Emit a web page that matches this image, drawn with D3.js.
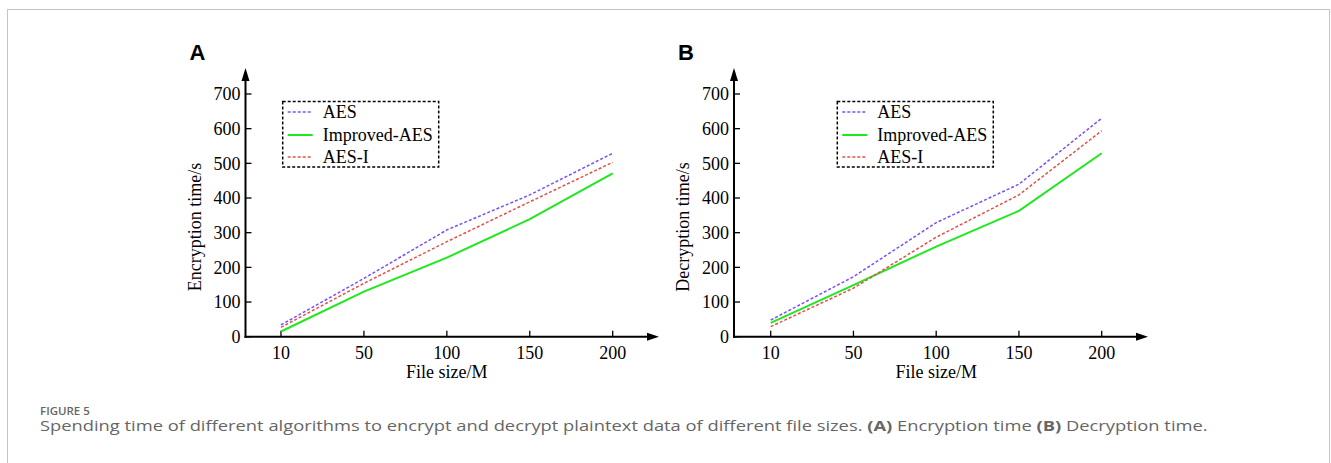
<!DOCTYPE html>
<html>
<head>
    <meta charset="UTF-8">
    <title>Encryption / decryption time</title>
    <script src="https://d3js.org/d3.v7.min.js"></script>
    <style>
        body { margin: 0; background: #fff; }
        .tick-label, .axis-title, .legend-text { font-family: "Liberation Serif", "Times New Roman", serif; font-size: 18px; fill: #000; }
        .panel-letter { font-family: "Liberation Sans", Arial, sans-serif; font-weight: bold; font-size: 22px; }
        .caption { font-family: "Open Sans", sans-serif; fill: #666; }
    </style>
</head>
<body>
    <svg id="chart"></svg>
    <script>
        const width = 1331;
        const height = 463;

        // data
        const fileSizes = ["10", "50", "100", "150", "200"];
        const yTicks = [0, 100, 200, 300, 400, 500, 600, 700];
        const seriesNames = ["AES", "Improved-AES", "AES-I"];

        const encAES = [34, 168, 308, 409, 529];
        const encImproved = [15, 130, 228, 339, 471];
        const encAESI = [27, 154, 274, 389, 503];

        const decAES = [48, 173, 329, 440, 630];
        const decImproved = [40, 149, 260, 363, 529];
        const decAESI = [29, 140, 287, 409, 594];

        const styles = {
            "AES": { color: "#7a4dff", dash: "3,2", width: 1.5 },
            "Improved-AES": { color: "#1ee81e", dash: null, width: 2 },
            "AES-I": { color: "#e2504c", dash: "3,2", width: 1.5 }
        };

        const svg = d3.select("#chart")
            .attr("width", width)
            .attr("height", height);

        // outer frame
        svg.append("rect")
            .attr("x", 7.5).attr("y", 9.5)
            .attr("width", 1322).attr("height", 470)
            .attr("fill", "none")
            .attr("stroke", "#c4c4c4");

        function drawPanel(opt) {
            const g = svg.append("g");
            const x = d3.scalePoint().domain(fileSizes).range([opt.x0, opt.x1]);
            const y = d3.scaleLinear().domain([0, 700]).range([336.7, 94]);

            // axes lines with arrows
            g.append("line")
                .attr("x1", opt.axisX).attr("x2", opt.axisX)
                .attr("y1", y(0) + 1).attr("y2", 78)
                .attr("stroke", "#000").attr("stroke-width", 2);
            g.append("path")
                .attr("d", `M${opt.axisX},68 L${opt.axisX - 4},81 L${opt.axisX + 4},81 Z`)
                .attr("fill", "#000");
            g.append("line")
                .attr("x1", opt.axisX - 1).attr("x2", opt.arrowX - 10)
                .attr("y1", y(0)).attr("y2", y(0))
                .attr("stroke", "#000").attr("stroke-width", 2);
            g.append("path")
                .attr("d", `M${opt.arrowX},${y(0)} L${opt.arrowX - 12},${y(0) - 4} L${opt.arrowX - 12},${y(0) + 4} Z`)
                .attr("fill", "#000");

            // y ticks (inward)
            yTicks.forEach(t => {
                g.append("line")
                    .attr("x1", opt.axisX).attr("x2", opt.axisX + 6)
                    .attr("y1", y(t)).attr("y2", y(t))
                    .attr("stroke", "#000").attr("stroke-width", 1.3);
                g.append("text")
                    .attr("class", "tick-label")
                    .attr("x", opt.axisX - 5).attr("y", y(t))
                    .attr("dy", "0.35em")
                    .attr("text-anchor", "end")
                    .text(t);
            });

            // x ticks (inward)
            fileSizes.forEach(c => {
                g.append("line")
                    .attr("x1", x(c)).attr("x2", x(c))
                    .attr("y1", y(0)).attr("y2", y(0) - 6)
                    .attr("stroke", "#000").attr("stroke-width", 1.3);
                g.append("text")
                    .attr("class", "tick-label")
                    .attr("x", x(c)).attr("y", 359)
                    .attr("text-anchor", "middle")
                    .text(c);
            });

            g.append("text")
                .attr("class", "axis-title")
                .attr("x", (opt.x0 + opt.x1) / 2).attr("y", 378)
                .attr("text-anchor", "middle")
                .text("File size/M");

            g.append("text")
                .attr("class", "axis-title")
                .attr("transform", `translate(${opt.axisX - 45},227) rotate(-90)`)
                .attr("text-anchor", "middle")
                .text(opt.yTitle);

            g.append("text")
                .attr("class", "panel-letter")
                .attr("x", opt.axisX - 56).attr("y", 60)
                .text(opt.letter);

            // lines
            const line = d3.line()
                .x((d, i) => x(fileSizes[i]))
                .y(d => y(d));

            opt.series.forEach((vals, k) => {
                const s = styles[seriesNames[k]];
                g.append("path")
                    .datum(vals)
                    .attr("d", line)
                    .attr("fill", "none")
                    .attr("stroke", s.color)
                    .attr("stroke-width", s.width)
                    .attr("stroke-dasharray", s.dash);
            });

            // legend
            const lg = g.append("g");
            lg.append("rect")
                .attr("x", opt.legX).attr("y", 101.5)
                .attr("width", opt.legW).attr("height", 65.5)
                .attr("fill", "#fff")
                .attr("stroke", "#000")
                .attr("stroke-width", 1.5)
                .attr("stroke-dasharray", "3,2");
            const rows = [112, 135, 157];
            seriesNames.forEach((name, k) => {
                const s = styles[name];
                lg.append("line")
                    .attr("x1", opt.legX + 5).attr("x2", opt.legX + 30)
                    .attr("y1", rows[k]).attr("y2", rows[k])
                    .attr("stroke", s.color)
                    .attr("stroke-width", s.width)
                    .attr("stroke-dasharray", s.dash);
                lg.append("text")
                    .attr("class", "legend-text")
                    .attr("x", opt.legX + 40).attr("y", rows[k])
                    .attr("dy", "0.35em")
                    .text(name);
            });
        }

        drawPanel({
            letter: "A", yTitle: "Encryption time/s",
            axisX: 245.5, x0: 281, x1: 612.7, arrowX: 659,
            legX: 282.7, legW: 156,
            series: [encAES, encImproved, encAESI]
        });

        drawPanel({
            letter: "B", yTitle: "Decryption time/s",
            axisX: 734, x0: 770.7, x1: 1101.7, arrowX: 1148,
            legX: 837.3, legW: 156,
            series: [decAES, decImproved, decAESI]
        });

        // caption
        svg.append("text")
            .attr("class", "caption")
            .attr("x", 40).attr("y", 415)
            .attr("font-size", 11.5)
            .attr("font-weight", 600)
            .text("FIGURE 5");

        const cap = svg.append("text")
            .attr("class", "caption")
            .attr("x", 40).attr("y", 431)
            .attr("font-size", 14);
        cap.append("tspan").text("Spending time of different algorithms to encrypt and decrypt plaintext data of different file sizes. ");
        cap.append("tspan").attr("font-weight", "bold").text("(A)");
        cap.append("tspan").text(" Encryption time ");
        cap.append("tspan").attr("font-weight", "bold").text("(B)");
        cap.append("tspan").text(" Decryption time.");

        // stretch the caption so it spans the same width as the reference
        const natural = cap.node().getComputedTextLength();
        const sx = 1169 / natural;
        cap.attr("transform", `translate(40,0) scale(${sx},1) translate(-40,0)`);
    </script>
</body>
</html>
